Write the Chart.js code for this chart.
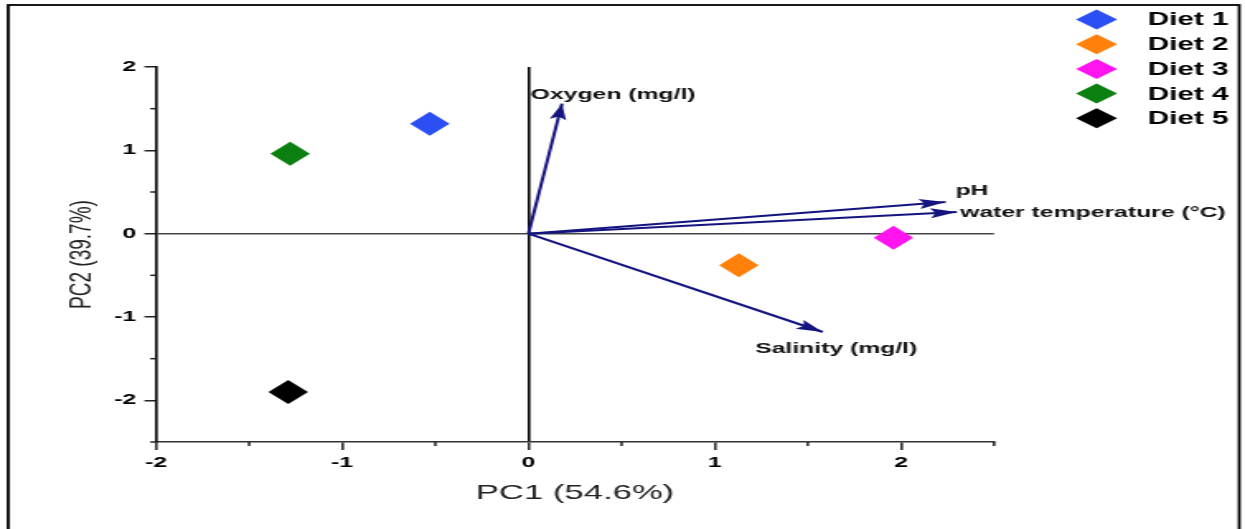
<!DOCTYPE html>
<html>
<head>
<meta charset="utf-8">
<script src="https://cdn.jsdelivr.net/npm/chart.js@4.4.1/dist/chart.umd.min.js"></script>
<style>
  html, body { margin: 0; padding: 0; background: #fff; overflow: hidden; }
  /* the reference picture is stretched sideways, so the whole chart is too */
  #wrap { width: 755px; height: 529px; transform: scaleX(1.649); transform-origin: 0 0; }
</style>
</head>
<body>
<div id="wrap"><canvas id="chart" width="755" height="529"></canvas></div>
<script>
// PCA biplot: diet scores + environmental loadings

const dietLabels = ['Diet 1', 'Diet 2', 'Diet 3', 'Diet 4', 'Diet 5'];
const dietPC1 = [-0.53, 1.13, 1.96, -1.28, -1.29];
const dietPC2 = [1.32, -0.38, -0.05, 0.96, -1.90];

const loadingLabels = ['Oxygen (mg/l)', 'pH', 'water temperature (\u00B0C)', 'Salinity (mg/l)'];
const loadingPC1 = [0.18, 2.24, 2.30, 1.58];
const loadingPC2 = [1.56, 0.38, 0.26, -1.18];

const xMajorTicks = [-2, -1, 0, 1, 2];
const yMajorTicks = [-2, -1, 0, 1, 2];

// styles
const dietColors = ['#2b4ff5', '#ff800a', '#ff14f0', '#0b8010', '#000000'];
const arrowColor = '#14147f';
const arrowLabelOffsets = [[-19, -9], [6, -11], [2, 1], [-41, 17]];
const FONT = 'Arial, "Liberation Sans", sans-serif';

const datasets = [];
dietLabels.forEach((name, i) => {
  datasets.push({
    label: name,
    data: [{ x: dietPC1[i], y: dietPC2[i] }],
    backgroundColor: dietColors[i],
    borderColor: dietColors[i],
    borderWidth: 0,
    pointStyle: 'rectRot',
    pointRadius: 12
  });
});
loadingLabels.forEach((name, i) => {
  datasets.push({
    label: name,
    isArrow: true,
    data: [{ x: 0, y: 0 }, { x: loadingPC1[i], y: loadingPC2[i] }],
    showLine: true,
    borderColor: arrowColor,
    borderWidth: 2,
    pointRadius: 0
  });
});

const tickFont = { family: FONT, size: 15, weight: 'bold' };

const framePlugin = {
  id: 'frame',
  beforeDraw(chart) {
    const ctx = chart.ctx;
    ctx.save();
    ctx.fillStyle = '#fff';
    ctx.fillRect(0, 0, chart.width, chart.height);
    ctx.strokeStyle = '#000';
    ctx.lineWidth = 1.8;
    ctx.strokeRect(5, 5, 746.5, 540);
    ctx.restore();
  }
};

const minorTicks = {
  id: 'minorTicks',
  afterDraw(chart) {
    const ctx = chart.ctx;
    const xs = chart.scales.x, ys = chart.scales.y;
    ctx.save();
    ctx.strokeStyle = '#222';
    ctx.lineWidth = 1.5;
    xs.ticks.forEach(t => {
      if (xMajorTicks.includes(t.value)) return;
      const px = xs.getPixelForValue(t.value);
      ctx.beginPath();
      ctx.moveTo(px, xs.top);
      ctx.lineTo(px, xs.top + 4);
      ctx.stroke();
    });
    ys.ticks.forEach(t => {
      if (yMajorTicks.includes(t.value)) return;
      const py = ys.getPixelForValue(t.value);
      ctx.beginPath();
      ctx.moveTo(ys.right, py);
      ctx.lineTo(ys.right - 3.5, py);
      ctx.stroke();
    });
    ctx.restore();
  }
};

const arrowPlugin = {
  id: 'arrows',
  afterDatasetsDraw(chart) {
    const ctx = chart.ctx;
    let k = 0;
    chart.data.datasets.forEach((ds, i) => {
      if (!ds.isArrow) return;
      const pts = chart.getDatasetMeta(i).data;
      const a = pts[0], b = pts[1];
      const ang = Math.atan2(b.y - a.y, b.x - a.x);
      const len = 16, half = 5;
      ctx.save();
      ctx.fillStyle = arrowColor;
      ctx.translate(b.x, b.y);
      ctx.rotate(ang);
      ctx.beginPath();
      ctx.moveTo(0, 0);
      ctx.lineTo(-len, -half);
      ctx.lineTo(-len + 3, 0);
      ctx.lineTo(-len, half);
      ctx.closePath();
      ctx.fill();
      ctx.restore();

      const off = arrowLabelOffsets[k++];
      ctx.save();
      ctx.font = 'bold 15px ' + FONT;
      ctx.fillStyle = '#111';
      ctx.textAlign = 'left';
      ctx.textBaseline = 'middle';
      ctx.fillText(ds.label, b.x + off[0], b.y + off[1]);
      ctx.restore();
    });
  }
};

const legendPlugin = {
  id: 'diamondLegend',
  afterDraw(chart) {
    const ctx = chart.ctx;
    const cx = 665, tx = 696;
    let y = 19.5;
    ctx.save();
    ctx.font = 'bold 18px ' + FONT;
    ctx.textAlign = 'left';
    ctx.textBaseline = 'middle';
    chart.data.datasets.forEach(ds => {
      if (ds.isArrow) return;
      ctx.fillStyle = ds.backgroundColor;
      ctx.beginPath();
      ctx.moveTo(cx - 12.5, y);
      ctx.lineTo(cx, y - 10);
      ctx.lineTo(cx + 12.5, y);
      ctx.lineTo(cx, y + 10);
      ctx.closePath();
      ctx.fill();
      ctx.fillStyle = '#000';
      ctx.fillText(ds.label, tx, y + 1);
      y += 24.7;
    });
    ctx.restore();
  }
};

new Chart(document.getElementById('chart'), {
  type: 'scatter',
  data: { datasets: datasets },
  plugins: [framePlugin, minorTicks, arrowPlugin, legendPlugin],
  options: {
    responsive: false,
    animation: false,
    devicePixelRatio: 1,
    events: [],
    layout: { padding: { left: 0, top: 67, right: 152.2, bottom: 0 } },
    plugins: { legend: { display: false }, tooltip: { enabled: false } },
    scales: {
      x: {
        type: 'linear',
        position: 'bottom',
        min: -2,
        max: 2.5,
        afterFit: s => { s.height = 87; },
        ticks: {
          stepSize: 0.5,
          autoSkip: false,
          maxRotation: 0,
          padding: 4,
          color: '#000',
          font: tickFont,
          callback: v => xMajorTicks.includes(v) ? String(v) : ''
        },
        grid: {
          color: c => (c.tick && c.tick.value === 0) ? '#000' : 'rgba(0,0,0,0)',
          lineWidth: 1.6,
          tickLength: 8,
          tickWidth: 1.5,
          tickColor: c => (c.tick && xMajorTicks.includes(c.tick.value)) ? '#222' : 'rgba(0,0,0,0)'
        },
        border: { display: true, color: '#333', width: 1.5 },
        title: {
          display: true,
          text: 'PC1 (54.6%)',
          color: '#222',
          font: { family: FONT, size: 21 },
          padding: { top: 0, bottom: 23 }
        }
      },
      y: {
        type: 'linear',
        min: -2.5,
        max: 2,
        afterFit: s => { s.width = 94.6; },
        ticks: {
          stepSize: 0.5,
          autoSkip: false,
          padding: 5,
          color: '#000',
          font: tickFont,
          callback: v => yMajorTicks.includes(v) ? String(v) : ''
        },
        grid: {
          color: c => (c.tick && c.tick.value === 0) ? '#444' : 'rgba(0,0,0,0)',
          lineWidth: 1.5,
          tickLength: 7,
          tickWidth: 1.5,
          tickColor: c => (c.tick && yMajorTicks.includes(c.tick.value)) ? '#222' : 'rgba(0,0,0,0)'
        },
        border: { display: true, color: '#000', width: 1.6 },
        title: {
          display: true,
          text: 'PC2 (39.7%)',
          color: '#222',
          font: { family: FONT, size: 19 },
          padding: { top: 38, bottom: 0 }
        }
      }
    }
  }
});
</script>
</body>
</html>
